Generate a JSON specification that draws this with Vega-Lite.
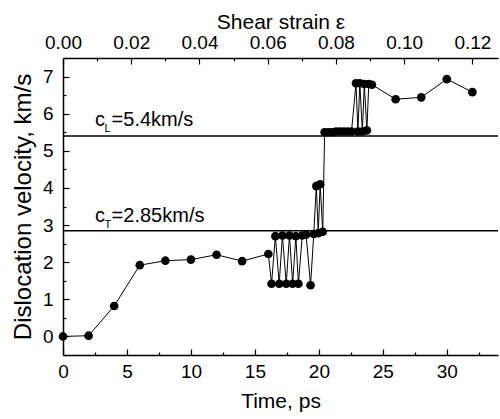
{
  "$schema": "https://vega.github.io/schema/vega-lite/v6.json",
  "width": 435,
  "height": 297,
  "autosize": {"type": "none"},
  "padding": {"left": 63, "top": 58, "right": 2, "bottom": 64},
  "background": "white",
  "config": {
    "view": {"stroke": null},
    "font": "Liberation Sans",
    "axis": {
      "grid": false,
      "domainColor": "black",
      "domainWidth": 1.5,
      "tickColor": "black",
      "tickWidth": 1.2,
      "labelColor": "black",
      "titleColor": "black",
      "labelFont": "Liberation Sans",
      "titleFont": "Liberation Sans",
      "labelFontSize": 19,
      "titleFontSize": 21,
      "titleFontWeight": "normal",
      "labelFlush": false
    }
  },
  "datasets": {
    "vel": [
      {"t": 0, "v": 0},
      {"t": 2, "v": 0.02},
      {"t": 4, "v": 0.82},
      {"t": 6, "v": 1.92},
      {"t": 8, "v": 2.04},
      {"t": 10, "v": 2.07},
      {"t": 12, "v": 2.2},
      {"t": 14, "v": 2.03},
      {"t": 16.05, "v": 2.22},
      {"t": 16.3, "v": 1.42},
      {"t": 16.6, "v": 2.7},
      {"t": 16.9, "v": 1.42},
      {"t": 17.15, "v": 2.72},
      {"t": 17.45, "v": 1.42},
      {"t": 17.7, "v": 2.72},
      {"t": 17.95, "v": 1.42},
      {"t": 18.2, "v": 2.7},
      {"t": 18.4, "v": 1.42},
      {"t": 18.7, "v": 2.72},
      {"t": 19.0, "v": 2.74},
      {"t": 19.35, "v": 1.38},
      {"t": 19.6, "v": 2.76},
      {"t": 19.8, "v": 4.05},
      {"t": 19.95, "v": 2.78},
      {"t": 20.1, "v": 4.1},
      {"t": 20.3, "v": 2.82},
      {"t": 20.45, "v": 5.5},
      {"t": 20.75, "v": 5.5},
      {"t": 21.05, "v": 5.5},
      {"t": 21.35, "v": 5.52},
      {"t": 21.65, "v": 5.52},
      {"t": 21.95, "v": 5.52},
      {"t": 22.25, "v": 5.52},
      {"t": 22.55, "v": 5.52},
      {"t": 22.9, "v": 6.82},
      {"t": 23.05, "v": 5.52},
      {"t": 23.2, "v": 6.82},
      {"t": 23.4, "v": 5.52},
      {"t": 23.55, "v": 6.8},
      {"t": 23.75, "v": 5.55},
      {"t": 23.9, "v": 6.8},
      {"t": 24.15, "v": 6.78},
      {"t": 26.0, "v": 6.39},
      {"t": 28.0, "v": 6.44},
      {"t": 30.0, "v": 6.93},
      {"t": 32.0, "v": 6.58}
    ],
    "speeds": [
      {"name": "cL", "v": 5.4},
      {"name": "cT", "v": 2.85}
    ],
    "one": [{}]
  },
  "layer": [
    {
      "layer": [
        {
          "layer": [
            {
              "data": {"name": "speeds"},
              "mark": {"type": "rule", "color": "black", "strokeWidth": 1.5},
              "encoding": {
                "y": {"field": "v", "type": "quantitative"}
              }
            },
            {
              "data": {"name": "vel"},
              "mark": {"type": "line", "color": "black", "strokeWidth": 1},
              "encoding": {
                "x": {"field": "t", "type": "quantitative"},
                "y": {"field": "v", "type": "quantitative"}
              }
            },
            {
              "data": {"name": "vel"},
              "mark": {"type": "point", "filled": true, "color": "black", "opacity": 1, "size": 75},
              "encoding": {
                "x": {"field": "t", "type": "quantitative"},
                "y": {"field": "v", "type": "quantitative"}
              }
            },
            {
              "data": {"name": "one"},
              "mark": {"type": "text", "align": "left", "baseline": "alphabetic", "fontSize": 20, "color": "black"},
              "encoding": {"x": {"datum": 2.5, "type": "quantitative"}, "y": {"datum": 5.67, "type": "quantitative"}, "text": {"value": "c"}}
            },
            {
              "data": {"name": "one"},
              "mark": {"type": "text", "align": "left", "baseline": "alphabetic", "fontSize": 11, "color": "black", "dy": 6},
              "encoding": {"x": {"datum": 3.25, "type": "quantitative"}, "y": {"datum": 5.67, "type": "quantitative"}, "text": {"value": "L"}}
            },
            {
              "data": {"name": "one"},
              "mark": {"type": "text", "align": "left", "baseline": "alphabetic", "fontSize": 20, "color": "black"},
              "encoding": {"x": {"datum": 3.8, "type": "quantitative"}, "y": {"datum": 5.67, "type": "quantitative"}, "text": {"value": "=5.4km/s"}}
            },
            {
              "data": {"name": "one"},
              "mark": {"type": "text", "align": "left", "baseline": "alphabetic", "fontSize": 20, "color": "black"},
              "encoding": {"x": {"datum": 2.5, "type": "quantitative"}, "y": {"datum": 3.07, "type": "quantitative"}, "text": {"value": "c"}}
            },
            {
              "data": {"name": "one"},
              "mark": {"type": "text", "align": "left", "baseline": "alphabetic", "fontSize": 11, "color": "black", "dy": 6},
              "encoding": {"x": {"datum": 3.25, "type": "quantitative"}, "y": {"datum": 3.07, "type": "quantitative"}, "text": {"value": "T"}}
            },
            {
              "data": {"name": "one"},
              "mark": {"type": "text", "align": "left", "baseline": "alphabetic", "fontSize": 20, "color": "black"},
              "encoding": {"x": {"datum": 3.8, "type": "quantitative"}, "y": {"datum": 3.07, "type": "quantitative"}, "text": {"value": "=2.85km/s"}}
            }
          ],
          "encoding": {
            "x": {
              "type": "quantitative",
              "scale": {"domain": [0, 34], "nice": false, "zero": false},
              "axis": {
                "title": "Time, ps",
                "orient": "bottom",
                "values": [0, 5, 10, 15, 20, 25, 30],
                "ticks": false,
                "labelPadding": 7,
                "titlePadding": 9
              }
            },
            "y": {
              "type": "quantitative",
              "scale": {"domain": [-0.5, 7.5], "nice": false, "zero": false},
              "axis": {
                "title": "Dislocation velocity, km/s",
                "titleFontSize": 24,
                "values": [0, 1, 2, 3, 4, 5, 6, 7],
                "format": "d",
                "ticks": false,
                "labelPadding": 10,
                "titlePadding": 7
              }
            }
          }
        },
        {
          "data": {"name": "one"},
          "mark": {"type": "rule", "opacity": 0},
          "encoding": {
            "x": {
              "datum": 0, "type": "quantitative",
              "axis": {
                "title": null,
                "orient": "bottom",
                "labels": false,
                "domain": false,
                "values": [0, 2.5, 5, 7.5, 10, 12.5, 15, 17.5, 20, 22.5, 25, 27.5, 30, 32.5],
                "tickSize": {"condition": {"test": "datum.value % 5 === 0", "value": -6}, "value": -3}
              }
            },
            "y": {
              "datum": 0, "type": "quantitative",
              "axis": {
                "title": null,
                "orient": "left",
                "labels": false,
                "domain": false,
                "values": [-0.5, 0, 0.5, 1, 1.5, 2, 2.5, 3, 3.5, 4, 4.5, 5, 5.5, 6, 6.5, 7, 7.5],
                "tickSize": {"condition": {"test": "datum.value % 1 === 0", "value": -6}, "value": -3}
              }
            }
          }
        }
      ],
      "resolve": {"axis": {"x": "independent", "y": "independent"}}
    },
    {
      "data": {"name": "one"},
      "mark": {"type": "rule", "opacity": 0},
      "encoding": {
        "x": {
          "datum": 0, "type": "quantitative",
          "scale": {"domain": [0, 0.1275], "nice": false, "zero": false},
          "axis": {
            "title": "Shear strain ε",
            "orient": "top",
            "values": [0, 0.01, 0.02, 0.03, 0.04, 0.05, 0.06, 0.07, 0.08, 0.09, 0.1, 0.11, 0.12],
            "labelExpr": "round(datum.value * 100) % 2 === 0 ? format(datum.value, '.2f') : ''",
            "tickSize": {"condition": {"test": "round(datum.value * 100) % 2 === 0", "value": -6}, "value": -3},
            "labelPadding": 12,
            "titlePadding": 1
          }
        }
      }
    }
  ],
  "resolve": {"scale": {"x": "independent"}, "axis": {"x": "independent"}}
}
